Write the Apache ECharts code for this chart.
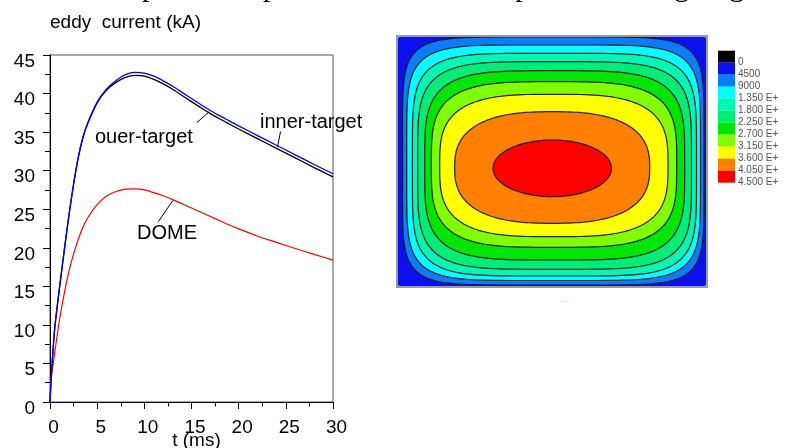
<!DOCTYPE html>
<html>
<head>
<meta charset="utf-8">
<script src="https://cdn.jsdelivr.net/npm/echarts@6/dist/echarts.min.js"></script>
<style>
html,body{margin:0;padding:0;background:#fff;}
#c{width:792px;height:448px;}
</style>
</head>
<body>
<div id="c"></div>
<script>
// ---- line chart data: eddy current (kA) vs t (ms) ----
const tMs = [0,0.1,0.25,0.5,1,1.5,2,2.5,3,3.5,4,5,6,7,8,9,10,11,12,13,14,15,16,17,18,19,20,22,24,26,28,30];
const innerTarget = [0,2.5,5.5,9.6,14.8,19.6,24.2,28.3,31.8,34.4,36.2,38.9,40.6,41.7,42.45,42.75,42.65,42.25,41.65,40.95,40.15,39.35,38.55,37.8,37.1,36.45,35.8,34.55,33.3,32.05,30.8,29.6];
const outerTarget = [0,2.4,5.4,9.5,14.7,19.5,24.1,28.2,31.7,34.3,36.1,38.8,40.45,41.45,42.1,42.35,42.25,41.85,41.25,40.55,39.75,38.95,38.15,37.4,36.7,36.05,35.4,34.15,32.9,31.65,30.4,29.2];
const dome = [0,2.8,4.2,6.4,10.6,14.0,16.9,19.2,21.1,22.7,23.9,25.6,26.7,27.3,27.6,27.65,27.5,27.15,26.75,26.25,25.7,25.15,24.6,24.05,23.5,22.95,22.45,21.5,20.7,19.9,19.15,18.4];

// ---- contour plot data (frame units: x 0..310, y 0..251, nested level curves, outer -> inner) ----
const levelLeft   = [0,   5.5,  9.7, 15.4, 20.7, 27.7, 34.4, 42.7, 57.7,  96.0];
const levelRight  = [310, 307, 303.5,299.5,294.5,287.7,279.7,271.0,252.7, 214.5];
const levelTop    = [0,   1.0,  9.0, 17.3, 25.7, 34.7, 45.7, 58.3, 75.7, 104.0];
const levelBottom = [251, 249, 244.5,240.0,233.3,224.0,211.3,200.7,187.3, 160.7];
const levelShape  = [60,  6.5,  5.6,  5.0,  4.5,  4.0,  3.6,  3.2,  2.6,   2.0];

// ---- colour scale ----
const scaleColors = ['#000000','#0a10ee','#0a7cff','#00ffff','#00f7b4','#00ee78','#00e600','#80ff00','#ffff00','#ff8000','#ff0000'];
const scaleLabels = ['0','4500','9000','1.350 E+','1.800 E+','2.250 E+','2.700 E+','3.150 E+','3.600 E+','4.050 E+','4.500 E+'];

const contourData = levelLeft.map((l,i)=>[l, levelRight[i], levelTop[i], levelBottom[i], levelShape[i], i+1]);
const scaleData = scaleColors.map((c,i)=>[i]);

function pairs(ys){ return tMs.map((t,i)=>[t, ys[i]]); }

function renderContour(params, api){
  const l=api.value(0), r=api.value(1), t=api.value(2), b=api.value(3), n=api.value(4), k=api.value(5);
  const cx=(l+r)/2, cy=(t+b)/2, ax=(r-l)/2, by=(b-t)/2;
  const pts=[];
  const N=200;
  for(let i=0;i<N;i++){
    const th=i/N*2*Math.PI, c=Math.cos(th), s=Math.sin(th);
    const x=cx+ax*Math.sign(c)*Math.pow(Math.abs(c),2/n);
    const y=cy+by*Math.sign(s)*Math.pow(Math.abs(s),2/n);
    pts.push(api.coord([x,y]));
  }
  return {type:'polygon', shape:{points:pts},
    style:{fill:scaleColors[k], stroke: k>1 ? '#1c1c1c' : null, lineWidth: 1.2}};
}

function renderScale(params, api){
  const i=api.value(0);
  const p0=api.coord([0,i]), p1=api.coord([1,i+1]);
  return {type:'rect', shape:{x:Math.min(p0[0],p1[0]), y:Math.min(p0[1],p1[1]),
    width:Math.abs(p1[0]-p0[0]), height:Math.abs(p1[1]-p0[1])},
    style:{fill:scaleColors[i]}};
}

const topWords = ['e','out','and','plasma','operation','thermal','expansion','bring','high'];
const topWordX = [-3,18,78,142,248,378,487,626,706];

const chart = echarts.init(document.getElementById('c'), null, {renderer:'canvas'});
const axisFont = {fontFamily:'Liberation Sans, Arial, sans-serif', fontSize:19, color:'#000'};

chart.setOption({
  animation:false,
  backgroundColor:'#fff',
  grid:[
    {left:50, top:55, width:283, height:347, show:true, borderColor:'#555', borderWidth:1, backgroundColor:'transparent'},
    {left:397, top:36, width:310, height:251, show:true, borderColor:'#9a9a9a', borderWidth:2, backgroundColor:'transparent', z:5},
    {left:718, top:50.7, width:17, height:132}
  ],
  xAxis:[
    {gridIndex:0, type:'value', min:0, max:30, interval:5,
     axisLine:{show:true, lineStyle:{color:'#000', width:1}},
     axisTick:{show:true, inside:false, length:7, lineStyle:{color:'#000'}},
     minorTick:{show:true, splitNumber:2, length:4.5, lineStyle:{color:'#000'}},
     splitLine:{show:false},
     axisLabel:Object.assign({margin:16, padding:[0,0,0,7]}, axisFont)},
    {gridIndex:1, type:'value', min:0, max:310, show:false},
    {gridIndex:2, type:'value', min:0, max:1, show:false}
  ],
  yAxis:[
    {gridIndex:0, type:'value', min:0, max:45, interval:5,
     axisLine:{show:true, lineStyle:{color:'#000', width:1}},
     axisTick:{show:true, inside:false, length:7, lineStyle:{color:'#000'}},
     minorTick:{show:true, splitNumber:2, length:5, lineStyle:{color:'#000'}},
     splitLine:{show:false},
     axisLabel:Object.assign({margin:15, verticalAlign:'top', lineHeight:13}, axisFont)},
    {gridIndex:1, type:'value', min:0, max:251, inverse:true, show:false},
    {gridIndex:2, type:'value', min:0, max:11, interval:1, inverse:true, position:'right',
     axisLine:{show:false}, axisTick:{show:false}, splitLine:{show:false},
     axisLabel:{show:true, margin:3, fontSize:10, fontFamily:'Liberation Sans, Arial, sans-serif', color:'#555',
       formatter:function(v){ return v>=1 ? scaleLabels[v-1] : ''; }}}
  ],
  series:[
    {type:'line', name:'inner-target', xAxisIndex:0, yAxisIndex:0, data:pairs(innerTarget),
     showSymbol:false, smooth:0.25, lineStyle:{color:'#0000ff', width:1.3}, z:3},
    {type:'line', name:'ouer-target', xAxisIndex:0, yAxisIndex:0, data:pairs(outerTarget),
     showSymbol:false, smooth:0.25, lineStyle:{color:'#000000', width:1.3}, z:2},
    {type:'line', name:'DOME', xAxisIndex:0, yAxisIndex:0, data:pairs(dome),
     showSymbol:false, smooth:0.25, lineStyle:{color:'#ff0000', width:1.2}, z:2},
    {type:'custom', name:'contour', xAxisIndex:1, yAxisIndex:1, data:contourData,
     encode:{x:[0,1], y:[2,3]}, renderItem:renderContour, z:1},
    {type:'custom', name:'scale', xAxisIndex:2, yAxisIndex:2, data:scaleData,
     encode:{x:[0], y:[0]}, renderItem:renderScale}
  ],
  graphic:[].concat(
    topWords.map((w,i)=>({type:'text', left:topWordX[i], top:-27,
      style:{text:w, font:'30px "Liberation Serif", "Times New Roman", serif', fill:'#000'}})),
    [
      {type:'text', left:50, top:13, style:{text:'eddy  current (kA)', font:'19px "Liberation Sans", Arial, sans-serif', fill:'#000'}},
      {type:'text', x:196.5, y:441, style:{text:'t (ms)', font:'19px "Liberation Sans", Arial, sans-serif', fill:'#000', align:'center', verticalAlign:'middle'}},
      {type:'text', x:95, y:137, style:{text:'ouer-target', font:'20px "Liberation Sans", Arial, sans-serif', fill:'#000', verticalAlign:'middle'}},
      {type:'text', x:260, y:122, style:{text:'inner-target', font:'20px "Liberation Sans", Arial, sans-serif', fill:'#000', verticalAlign:'middle'}},
      {type:'text', x:137, y:233, style:{text:'DOME', font:'20px "Liberation Sans", Arial, sans-serif', fill:'#000', verticalAlign:'middle'}},
      {type:'line', shape:{x1:196.7,y1:122.7,x2:209.3,y2:111.7}, style:{stroke:'#000', lineWidth:1}},
      {type:'line', shape:{x1:280.5,y1:131.5,x2:277.5,y2:147}, style:{stroke:'#000', lineWidth:1}},
      {type:'line', shape:{x1:158.3,y1:221.7,x2:172.7,y2:200.7}, style:{stroke:'#000', lineWidth:1}},
      {type:'text', x:565, y:300, style:{text:'..', font:'7px sans-serif', fill:'#44dd22', align:'center', verticalAlign:'middle'}}
    ]
  )
});
</script>
</body>
</html>
